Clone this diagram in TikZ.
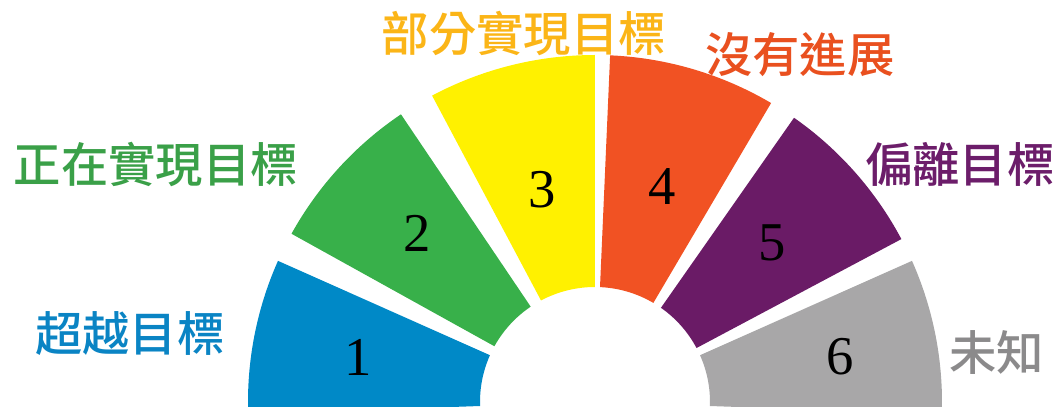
\documentclass[tikz,border=0pt]{standalone}
\usepackage{fontspec}
\setmainfont{Liberation Serif}
\newfontfamily\cjk{Noto Sans CJK TC Medium}
\definecolor{farge1}{HTML}{0089C7}
\definecolor{farge2}{HTML}{38B04A}
\definecolor{farge3}{HTML}{FFF100}
\definecolor{farge4}{HTML}{F15223}
\definecolor{farge5}{HTML}{6A1B66}
\definecolor{farge6}{HTML}{A8A7A8}
\definecolor{tekst1}{HTML}{0A84C4}
\definecolor{tekst2}{HTML}{3AA048}
\definecolor{tekst3}{HTML}{FBB517}
\definecolor{tekst4}{HTML}{E9501F}
\definecolor{tekst5}{HTML}{6C1D6A}
\definecolor{tekst6}{HTML}{8B8A8B}
% sektor: farge, startvinkel, sluttvinkel
\newcommand{\sektor}[3]{%
  \fill[#1] (#2:115) -- (#2:347) arc[start angle=#2, end angle=#3, radius=347]
    -- (#3:115) arc[start angle=#3, end angle=#2, radius=115] -- cycle;}
\begin{document}
\begin{tikzpicture}[
        x=0.75pt, y=0.75pt,
        tall/.style={font=\fontsize{41}{41}\selectfont, inner sep=0pt}, % Tall i sektorene
        merke/.style={font=\fontsize{35.5}{35.5}\selectfont\cjk, inner sep=0pt}, % Tekst rundt
    ]
    \useasboundingbox (-595,-5) rectangle (463,402);
    \coordinate (midt) at (0,0);

    % sektorene
    \sektor{farge1}{156}{182}
    \sektor{farge2}{124}{151}
    \sektor{farge3}{90}{118}
    \sektor{farge4}{59.5}{87.5}
    \sektor{farge5}{28}{55}
    \sektor{farge6}{-2}{24}

    % tall
    \node[tall] (t1) at (-237,45) {1};
    \node[tall] (t2) at (-178,169) {2};
    \node[tall] (t3) at (-53,212) {3};
    \node[tall] (t4) at (67,215) {4};
    \node[tall] (t5) at (177,159) {5};
    \node[tall] (t6) at (245,45) {6};

    % merker
    \node[merke, text=tekst1] (m1) at (-465,68) {超越目標};
    \node[merke, text=tekst2] (m2) at (-439,238) {正在實現目標};
    \node[merke, text=tekst3] (m3) at (-71,369) {部分實現目標};
    \node[merke, text=tekst4] (m4) at (205,347) {沒有進展};
    \node[merke, text=tekst5] (m5) at (365,238) {偏離目標};
    \node[merke, text=tekst6] (m6) at (402,49) {未知};
\end{tikzpicture}
\end{document}
